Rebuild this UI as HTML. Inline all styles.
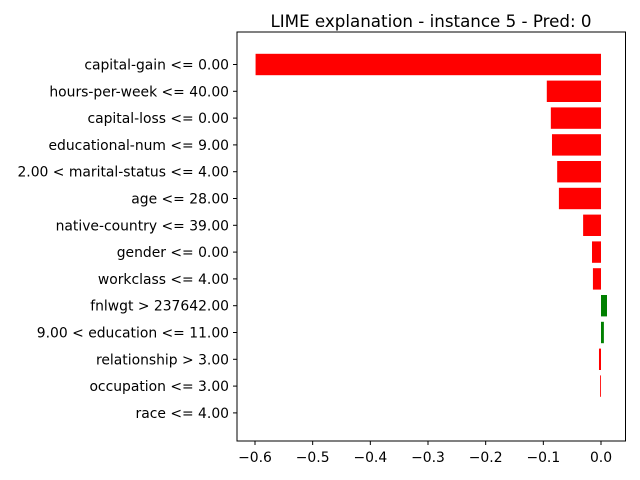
<!DOCTYPE html>
<html><head><meta charset="utf-8"><style>body{margin:0;background:#fff}svg{display:block;font-family:"DejaVu Sans","Liberation Sans",sans-serif}</style></head>
<body>
<svg id="chart" width="640" height="480">
<text x="431" y="27" font-size="16.7" text-anchor="middle">LIME explanation - instance 5 - Pred: 0</text>
<g id="bars"></g><g id="ylabels"></g><g id="xticks"></g>
<rect x="237" y="32" width="388.5" height="409" fill="none" stroke="#000" stroke-width="1"/>
</svg>
<script>
const categories=["capital-gain <= 0.00","hours-per-week <= 40.00","capital-loss <= 0.00","educational-num <= 9.00","2.00 < marital-status <= 4.00","age <= 28.00","native-country <= 39.00","gender <= 0.00","workclass <= 4.00","fnlwgt > 237642.00","9.00 < education <= 11.00","relationship > 3.00","occupation <= 3.00","race <= 4.00"];
const weights=[-0.599,-0.094,-0.087,-0.085,-0.076,-0.073,-0.031,-0.0156,-0.014,0.0104,0.005,-0.0035,-0.0015,0.0];
const xTicks=[-0.6,-0.5,-0.4,-0.3,-0.2,-0.1,0.0];
const xTickLabels=["−0.6","−0.5","−0.4","−0.3","−0.2","−0.1","0.0"];
const NS="http://www.w3.org/2000/svg";
const x=v=>601+v*576.67;
const y=i=>64.5+26.8*i;
const bh=21.4;
const bars=document.getElementById('bars'),yl=document.getElementById('ylabels'),xt=document.getElementById('xticks');
categories.forEach((c,i)=>{
  const w=weights[i];
  const r=document.createElementNS(NS,'rect');
  r.setAttribute('x',Math.min(x(0),x(w)));r.setAttribute('y',y(i)-bh/2);
  r.setAttribute('width',Math.abs(x(w)-x(0)));r.setAttribute('height',bh);
  r.setAttribute('fill',w>0?'green':'red');
  
  
  bars.appendChild(r);
  const t=document.createElementNS(NS,'line');
  t.setAttribute('x1',233);t.setAttribute('x2',237);t.setAttribute('y1',y(i));t.setAttribute('y2',y(i));t.setAttribute('stroke','#000');
  
  
  yl.appendChild(t);
  const l=document.createElementNS(NS,'text');
  l.setAttribute('x',229);l.setAttribute('y',y(i)+5);l.setAttribute('font-size','13.9');l.setAttribute('text-anchor','end');
  l.textContent=c;
  
  
  yl.appendChild(l);
});
xTicks.forEach((v,i)=>{
  const t=document.createElementNS(NS,'line');
  t.setAttribute('x1',x(v));t.setAttribute('x2',x(v));t.setAttribute('y1',441);t.setAttribute('y2',445);t.setAttribute('stroke','#000');
  
  
  xt.appendChild(t);
  const l=document.createElementNS(NS,'text');
  l.setAttribute('x',x(v));l.setAttribute('y',462);l.setAttribute('font-size','13.9');l.setAttribute('text-anchor','middle');
  l.textContent=xTickLabels[i];
  
  
  xt.appendChild(l);
});
</script>
</body></html>
